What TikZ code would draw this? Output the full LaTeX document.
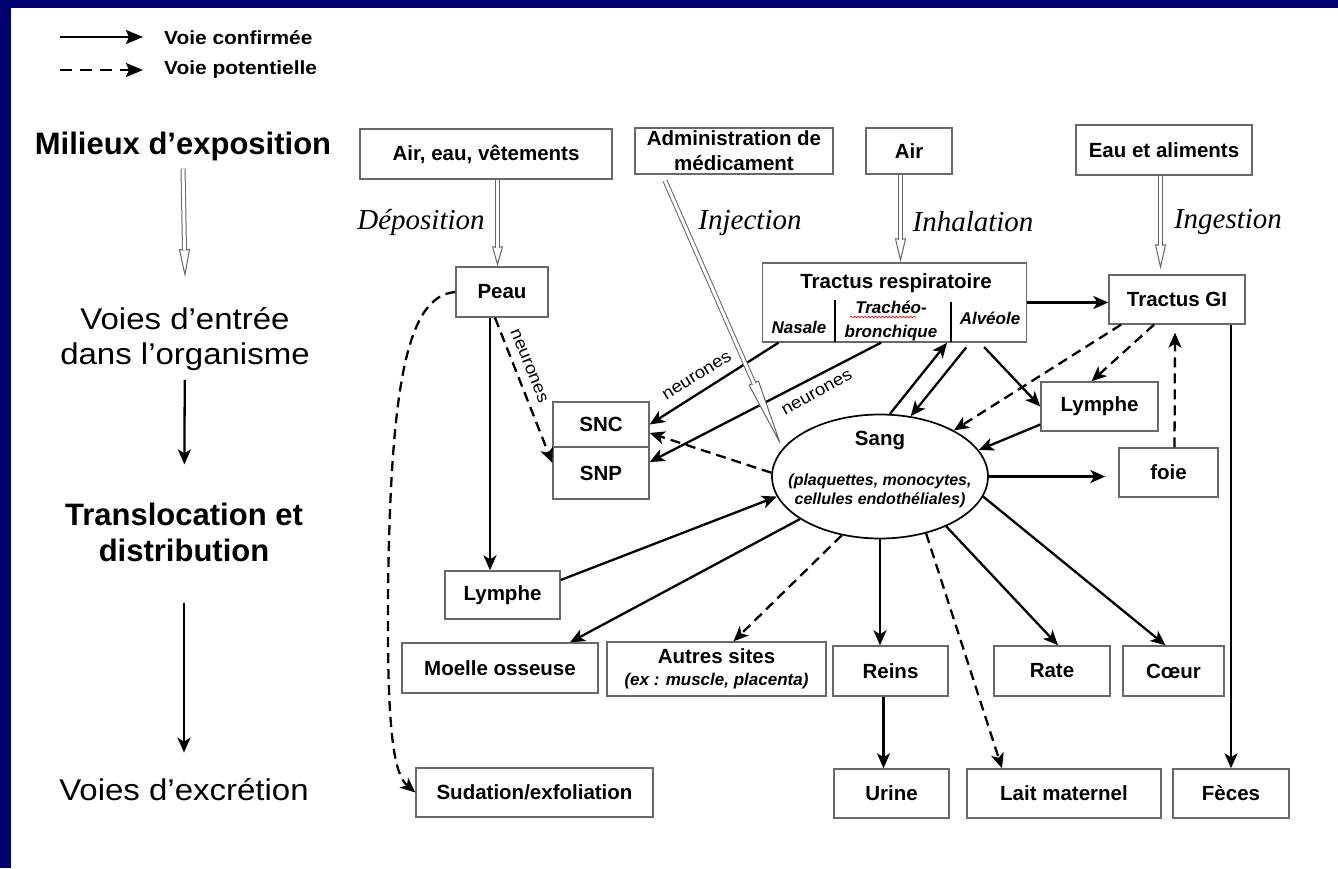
\documentclass[tikz,border=0pt]{standalone}
\usepackage{fontspec}
\setmainfont{Liberation Sans}
\setsansfont{Liberation Sans}
\newfontfamily\serifit{Liberation Serif}
\newfontfamily\largesans{Liberation Sans}[FakeStretch=1.1]
\usetikzlibrary{arrows.meta,shapes.geometric,decorations.pathmorphing}

\definecolor{cadre}{RGB}{0,0,110}
\definecolor{gris}{RGB}{105,105,105}

\tikzset{
  box/.style={draw=gris, line width=1.4pt, fill=white, inner sep=0pt, align=center,
    font=\bfseries\fontsize{20.5}{25}\selectfont},
  voie/.style={line width=2.3pt, -{Stealth[length=15pt,width=13pt,inset=4pt]}},
  pot/.style={voie, dash pattern=on 10pt off 6pt},
  creux/.style={draw=black!60, line width=1pt, double=white, double distance=3pt},
  creuxtete/.style={draw=black!60, line width=1pt, -{Triangle[length=#1,width=11pt,fill=white]}},
  niveau/.style={align=center, inner sep=0pt, font=\largesans\fontsize{30}{35}\selectfont},
  niveaugras/.style={align=center, inner sep=0pt, font=\bfseries\fontsize{31}{36}\selectfont},
  legende/.style={inner sep=0pt, font=\largesans\bfseries\fontsize{19}{21}\selectfont},
  voietxt/.style={inner sep=0pt, font=\serifit\itshape\fontsize{29}{32}\selectfont},
  petitit/.style={inner sep=0pt, align=center, font=\bfseries\itshape\fontsize{17}{24}\selectfont},
  neurone/.style={inner sep=0pt, font=\largesans\fontsize{17}{19}\selectfont}
}

% fleche creuse (voie d'entree)
\newcommand{\entree}[3]{%
  \draw[creuxtete=#3] #1 -- #2;
  \draw[creux, shorten >=#3-1.5pt] #1 -- #2;}

\begin{document}
\begin{tikzpicture}[x=1pt,y=-1pt]
  \useasboundingbox (0,0) rectangle (1338,868);
  \fill[cadre] (0,0) rectangle (1338,868);
  \fill[white] (11,8) rectangle (1338,868);

  % legende
  \node[legende, anchor=west] (legConf) at (164,38) {Voie confirmée};
  \node[legende, anchor=west] (legPot) at (164,70) {Voie potentielle};
  \coordinate (lgA) at (60,37);
  \coordinate (lgB) at (60,70);
  \draw[line width=2.4pt, -{Stealth[length=17pt,width=14pt,inset=3pt]}, shorten >=21pt] (lgA) -- (lgA -| legConf.west);
  \draw[line width=2.4pt, dash pattern=on 12pt off 8pt, -{Stealth[length=17pt,width=14pt,inset=3pt]}, shorten >=21pt] (lgB) -- (legPot.west);

  % niveaux
  \node[niveaugras] (nivExpo) at (183,146) {Milieux d’exposition};
  \node[niveau] (nivEntree) at (185,339) {Voies d’entrée\\dans l’organisme};
  \node[niveaugras] (nivTransloc) at (184,532) {Translocation et\\distribution};
  \node[niveau] (nivExcr) at (184,790) {Voies d’excrétion};
  \entree{([yshift=-8]nivExpo.south)}{([yshift=30]nivEntree.north)}{28pt}
  \draw[voie, shorten <=9pt, shorten >=38pt] (nivEntree) -- (nivTransloc);
  \draw[voie, shorten <=41pt, shorten >=26pt] (nivTransloc) -- (nivExcr);

  % milieux
  \node[box, minimum width=252, minimum height=50] (airEau) at (486,154) {Air, eau, vêtements};
  \node[box, minimum width=198, minimum height=46] (admin) at (734,151) {Administration de\\médicament};
  \node[box, minimum width=86, minimum height=46] (air) at (909,151) {Air};
  \node[box, minimum width=176, minimum height=50] (eauAlim) at (1164,150) {Eau et aliments};

  \node[voietxt] (txtDepo) at (421,223) {Déposition};
  \node[voietxt] (txtInj) at (750,223) {Injection};
  \node[voietxt] (txtInh) at (973,222) {Inhalation};
  \node[voietxt] (txtIng) at (1228,222) {Ingestion};

  % entrees
  \node[box, minimum width=92, minimum height=50] (peau) at (502,292) {Peau};
  \node[box, minimum width=264, minimum height=79] (tractResp) at (894.5,302.5) {};
  \node[box, draw=none, fill=none] (trTitre) at (896,283) {Tractus respiratoire};
  \node[petitit] (trNasale) at (799,327) {Nasale};
  \node[petitit] (trTrach) at (891,321) {Trachéo-\\bronchique};
  \node[petitit] (trAlv) at (990,318) {Alvéole};
  \draw[line width=2.5pt] (835,300) -- (835,342);
  \draw[line width=2.5pt] (951,302) -- (951,342);
  \draw[red, line width=0.7pt, decorate, decoration={snake, amplitude=0.8pt, segment length=3.5pt}] (850,317) -- (916,317);
  \node[box, minimum width=136, minimum height=49] (tractGI) at (1177,299.5) {Tractus GI};

  % distribution
  \node[box, minimum width=96, minimum height=45] (snc) at (601,424.5) {SNC};
  \node[box, minimum width=96, minimum height=52] (snp) at (601,473) {SNP};
  \node[draw, line width=1.7pt, ellipse, minimum width=216, minimum height=124, inner sep=0pt] (sang) at (880,476.5) {};
  \node[inner sep=0pt, font=\bfseries\fontsize{20.5}{24}\selectfont] (sangTitre) at (880,441) {Sang};
  \node[petitit, font=\bfseries\itshape\fontsize{16}{19}\selectfont] (sangDetail) at (880,491) {(plaquettes, monocytes,\\cellules endothéliales)};
  \node[box, minimum width=117, minimum height=49] (lympheD) at (1099.5,406.5) {Lymphe};
  \node[box, minimum width=99, minimum height=49] (foie) at (1168.5,472.5) {foie};
  \node[box, minimum width=115, minimum height=48] (lympheG) at (502.5,595) {Lymphe};

  \node[box, minimum width=196, minimum height=50] (moelle) at (500,668) {Moelle osseuse};
  \node[box, minimum width=219, minimum height=54] (autres) at (716.5,669) {Autres sites\\[-3pt]{\itshape\fontsize{17}{20}\selectfont(ex : muscle, placenta)}};
  \node[box, minimum width=115, minimum height=50] (reins) at (890.5,671) {Reins};
  \node[box, minimum width=116, minimum height=50] (rate) at (1052,671) {Rate};
  \node[box, minimum width=101, minimum height=50] (coeur) at (1173.5,671) {Cœur};

  % excretion
  \node[box, minimum width=237, minimum height=49] (sudation) at (534.5,792.5) {Sudation/exfoliation};
  \node[box, minimum width=115, minimum height=49] (urine) at (891.5,793.5) {Urine};
  \node[box, minimum width=194, minimum height=49] (lait) at (1064,793.5) {Lait maternel};
  \node[box, minimum width=116, minimum height=49] (feces) at (1231,793.5) {Fèces};

  % voies nerveuses
  \draw[pot] ([xshift=-7]peau.south) -- ([yshift=10]snp.west);
  \draw[voie] ([xshift=-116]tractResp.south) -- (snc.east);
  \draw[voie] ([xshift=-13.5]tractResp.south) -- ([yshift=11]snp.east);
  \node[neurone, rotate=-68] (neurPeau) at (529,366) {neurones};
  \node[neurone, rotate=32] (neurNas) at (697,376) {neurones};
  \node[neurone, rotate=29] (neurTrach) at (817,393) {neurones};
  \draw[pot] (sang.178) -- ([yshift=-8.5]snc.east);

  % peau
  \draw[voie] ([xshift=-12]peau.south) -- ([xshift=-12.5]lympheG.north);
  \draw[pot] (peau.west) .. controls (408,296) and (390,380) .. (388,600)
    .. controls (387,740) and (395,775) .. (sudation.west);
  \draw[voie] ([yshift=15]lympheG.east) -- (sang.191);

  % poumon, tube digestif
  \draw[voie] (sang.81) -- ([xshift=52.5]tractResp.south);
  \draw[voie, shorten <=6pt] ([xshift=75.5]tractResp.south) -- (sang.63);
  \draw[voie, shorten <=6pt] ([xshift=85.5]tractResp.south) -- (lympheD.west);
  \draw[voie] (tractResp.east) -- (tractResp.east -| tractGI.west);
  \draw[pot] ([xshift=-23]tractGI.south) -- ([xshift=-8]lympheD.north);
  \draw[pot] ([xshift=-56]tractGI.south) -- (sang.32);
  \draw[voie] ([yshift=-18]lympheD.west) -- (sang.15);
  \draw[voie, shorten >=13pt] (sang.east) -- (sang.east -| foie.west);
  \draw[pot] ([xshift=6]foie.north) -- ([xshift=-2,yshift=-8]tractGI.south);
  \draw[voie] ([xshift=54]tractGI.south) -- (feces.north);

  % organes
  \draw[voie] (sang.208) -- ([xshift=70]moelle.north);
  \draw[pot] (sang.237) -- ([xshift=17]autres.north);
  \draw[voie] (sang.south) -- (sang.south |- reins.north);
  \draw[pot] (sang.309) -- ([xshift=-62]lait.north);
  \draw[voie] (sang.323) -- ([xshift=6]rate.north);
  \draw[voie] (sang.349) -- ([xshift=-8]coeur.north);
  \draw[voie] ([xshift=-7]reins.south) -- ([xshift=-8]urine.north);

  % voies d'entree (fleches creuses)
  \entree{([xshift=11.5]airEau.south)}{([xshift=-4.5]peau.north)}{20pt}
  \entree{([xshift=-8.5]air.south)}{([xshift=6]tractResp.north)}{24pt}
  \entree{([xshift=-3.5]eauAlim.south)}{([xshift=-16.5,yshift=5]tractGI.north)}{25pt}
  \entree{([xshift=-69,yshift=-6]admin.south)}{(sang.164)}{72pt}
\end{tikzpicture}
\end{document}
